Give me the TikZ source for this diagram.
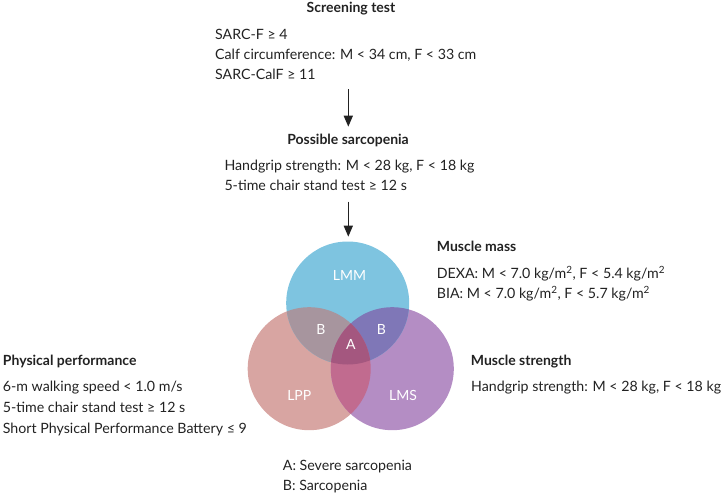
\documentclass[tikz,border=0pt]{standalone}
\usepackage{fontspec}
\setmainfont{Lato}
\usetikzlibrary{arrows.meta}
\definecolor{txt}{HTML}{222222}
\definecolor{cblue}{HTML}{7EC4E0}
\definecolor{cpink}{HTML}{D8A5A2}
\definecolor{cpurple}{HTML}{B48DC4}
\definecolor{ctl}{HTML}{A7959E}
\definecolor{ctr}{HTML}{7F77B7}
\definecolor{clr}{HTML}{C16B8F}
\definecolor{cctr}{HTML}{A4577F}
\tikzset{
  txtline/.style={anchor=base west, inner sep=0pt, text=txt, font=\fontsize{14.2}{17}\selectfont},
  heading/.style={inner sep=0pt, text=txt, font=\fontsize{14}{17}\selectfont\bfseries},
  inlabel/.style={anchor=base, inner sep=0pt, text=white, font=\fontsize{14}{17}\selectfont},
  flowarrow/.style={draw=txt, line width=1.5pt, -{Triangle[length=11pt,width=9pt]}},
}
\begin{document}
\begin{tikzpicture}[x=1pt,y=-1pt]
\useasboundingbox (0,0) rectangle (723,495);
% headings and text
\node[heading, anchor=base] (scr) at (351,13) {Screening test};
\node[txtline] (s1) at (215,39.3) {SARC-F ≥ 4};
\node[txtline] (s2) at (215,59.3) {Calf circumference: M < 34 cm, F < 33 cm};
\node[txtline] (s3) at (215,79.3) {SARC-CalF ≥ 11};
\node[heading, anchor=base] (pos) at (348,144.5) {Possible sarcopenia};
\node[txtline] (p1) at (224.3,170.7) {Handgrip strength: M < 28 kg, F < 18 kg};
\node[txtline] (p2) at (224.3,190.7) {5-time chair stand test ≥ 12 s};
\node[heading, anchor=base west] (mm) at (436.7,251.7) {Muscle mass};
\node[txtline] (m1) at (436.7,278.3) {DEXA: M < 7.0 kg/m\textsuperscript{2}, F < 5.4 kg/m\textsuperscript{2}};
\node[txtline] (m2) at (436.7,298.3) {BIA: M < 7.0 kg/m\textsuperscript{2}, F < 5.7 kg/m\textsuperscript{2}};
\node[heading, anchor=base west] (ms) at (470.7,365) {Muscle strength};
\node[txtline] (ms1) at (471,391) {Handgrip strength: M < 28 kg, F < 18 kg};
\node[heading, anchor=base west] (pp) at (2.7,365) {Physical performance};
\node[txtline] (pp1) at (2.7,391.7) {6-m walking speed < 1.0 m/s};
\node[txtline] (pp2) at (2.7,412.7) {5-time chair stand test ≥ 12 s};
\node[txtline] (pp3) at (2.7,433.7) {Short Physical Performance Battery ≤ 9};
\node[txtline] (la) at (282.7,470) {A: Severe sarcopenia};
\node[txtline] (lb) at (282.7,490.7) {B: Sarcopenia};
% arrows
\coordinate (a1s) at (348.3,89);
\coordinate (a1e) at (348.3,126.7);
\coordinate (a2s) at (348.3,201.5);
\coordinate (a2e) at (348.3,236.7);
\draw[flowarrow] (a1s) -- (a1e);
\draw[flowarrow] (a2s) -- (a2e);
% venn
\coordinate (T) at (347.7,303);
\coordinate (L) at (309.2,368.7);
\coordinate (R) at (392.3,368.7);
\def\rr{61.5pt}
\fill[cpink] (L) circle[radius=\rr];
\fill[cpurple] (R) circle[radius=\rr];
\fill[cblue] (T) circle[radius=\rr];
\begin{scope}
  \clip (T) circle[radius=\rr];
  \fill[ctl] (L) circle[radius=\rr];
  \fill[ctr] (R) circle[radius=\rr];
\end{scope}
\begin{scope}
  \clip (L) circle[radius=\rr];
  \fill[clr] (R) circle[radius=\rr];
\end{scope}
\begin{scope}
  \clip (T) circle[radius=\rr];
  \clip (L) circle[radius=\rr];
  \fill[cctr] (R) circle[radius=\rr];
\end{scope}
\node[inlabel] (lmm) at (349.5,280.7) {LMM};
\node[inlabel] (b1) at (321,334.3) {B};
\node[inlabel] (b2) at (381.3,334.3) {B};
\node[inlabel] (ca) at (350.8,349) {A};
\node[inlabel] (lpp) at (299.3,400.7) {LPP};
\node[inlabel] (lms) at (403,400.7) {LMS};
\end{tikzpicture}
\end{document}
